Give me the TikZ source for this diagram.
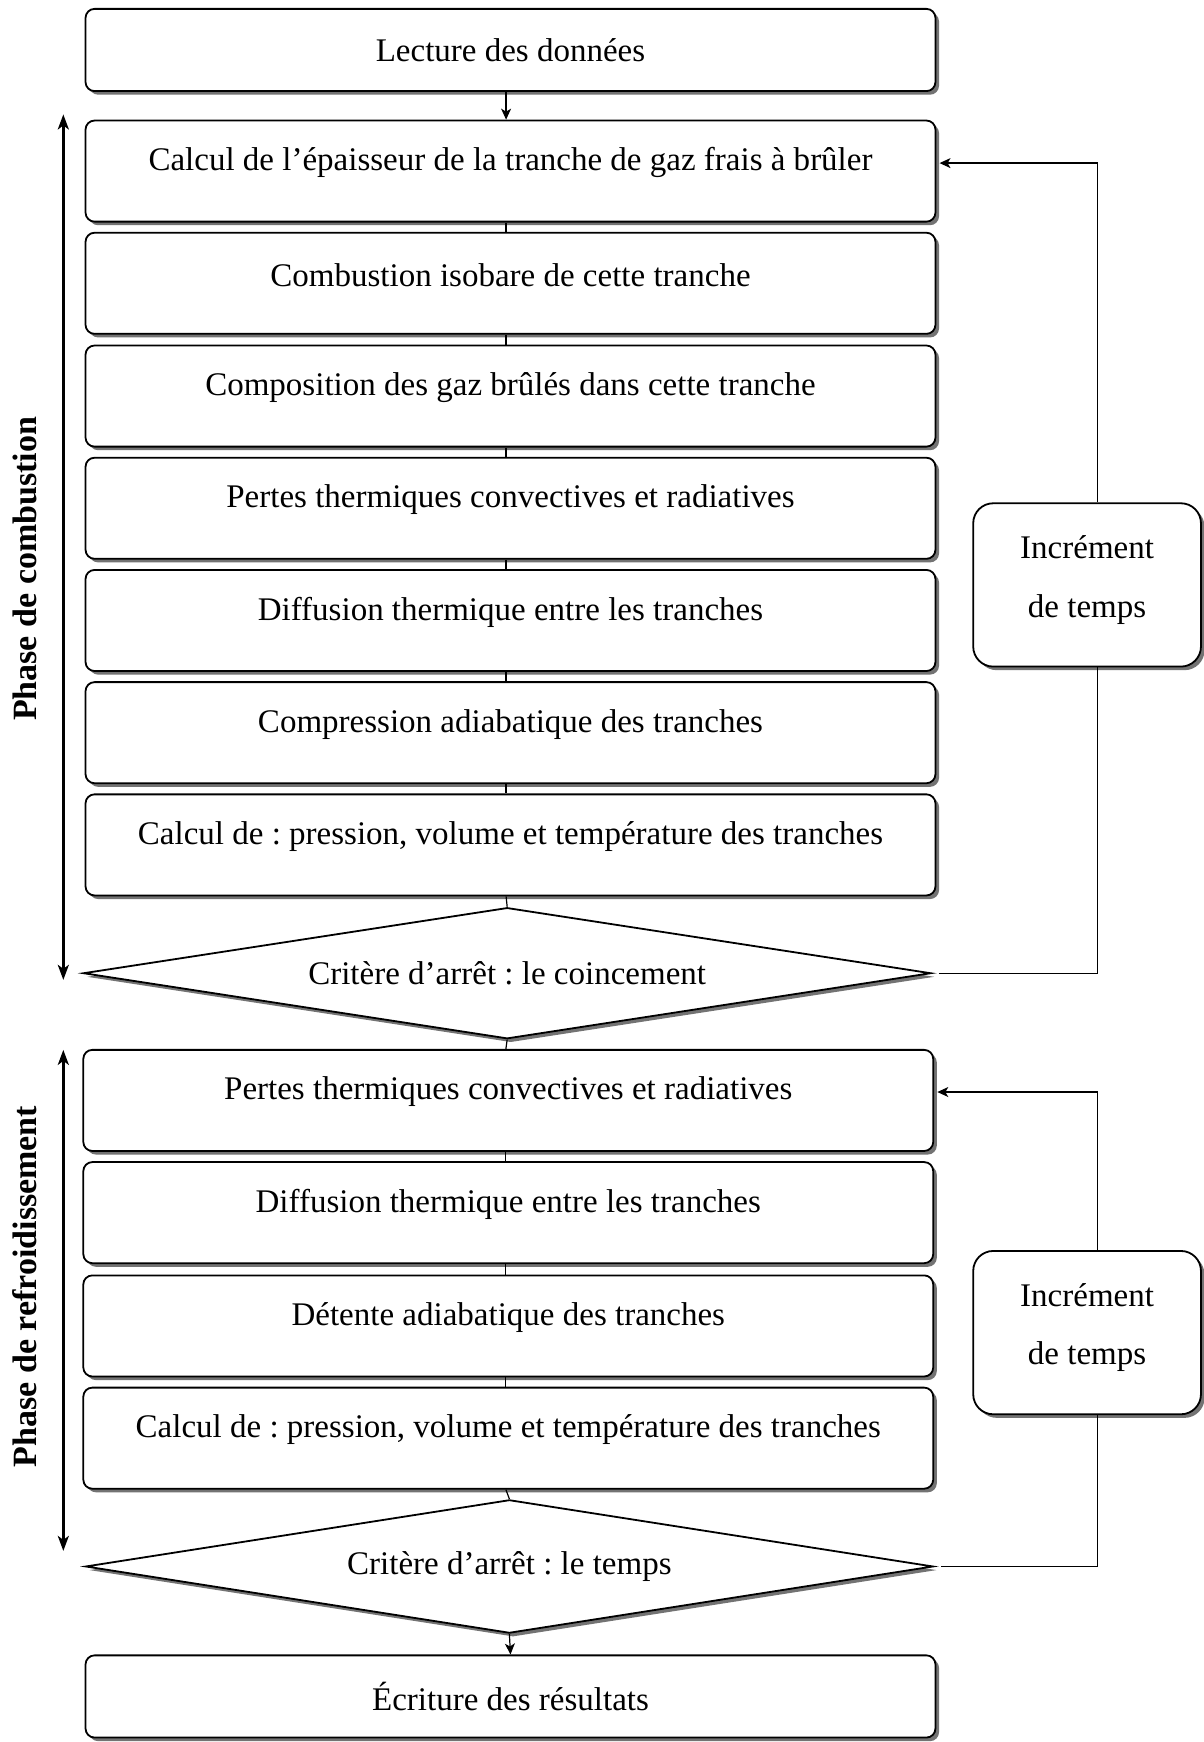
\documentclass[tikz,border=0pt]{standalone}
\usepackage{fontspec}
\setmainfont{Liberation Serif}
\usetikzlibrary{shapes.geometric,shadows,arrows.meta}
\frenchspacing
\def\u{0.5554pt}
\newcommand{\fs}{\fontsize{16.5}{20}\selectfont}
\newcommand{\upt}[1]{\raisebox{4.2pt}[\height][\depth]{#1}}
\tikzset{
  shad/.style={drop shadow={shadow xshift=1.8pt,shadow yshift=-1.8pt,fill=black!55,opacity=1}},
  stepbox/.style={draw,line width=0.9pt,rounded corners=4.5pt,fill=white,shad,
    minimum width=765*\u,minimum height=91*\u,inner sep=0pt,font=\fs},
  endbox/.style={stepbox,minimum height=74*\u},
  testbox/.style={draw,line width=0.9pt,fill=white,shad,shape=diamond,aspect=6.4,
    minimum width=763*\u,minimum height=118*\u,inner sep=0pt,font=\fs},
  incbox/.style={draw,line width=0.9pt,rounded corners=10pt,fill=white,shad,
    minimum width=205*\u,minimum height=147*\u,inner sep=0pt,align=center,
    font=\fontsize{16.5}{29.4}\selectfont},
  conn/.style={line width=0.6pt},
  arr/.style={conn,-{Stealth[length=5.5pt,width=5pt,inset=1.5pt]}},
  phase/.style={line width=1.3pt,{Stealth[length=7.5pt,width=5.5pt,inset=2pt]}-{Stealth[length=7.5pt,width=5.5pt,inset=2pt]}},
  phaselab/.style={rotate=90,font=\fontsize{17}{20}\selectfont\bfseries}
}
\begin{document}
\begin{tikzpicture}[x=0.5554pt,y=-0.5554pt]
\path[use as bounding box,fill=white] (0,0) rectangle (1083,1568);
% upper part
\node[endbox] (b1) at (459.5,45) {Lecture des données};
\node[stepbox] (b2) at (459.5,154) {\upt{Calcul de l’épaisseur de la tranche de gaz frais à brûler}};
\node[stepbox] (b3) at (459.5,255) {\upt{Combustion isobare de cette tranche}};
\node[stepbox] (b4) at (459.5,356.5) {\upt{Composition des gaz brûlés dans cette tranche}};
\node[stepbox] (b5) at (459.5,457.5) {\upt{Pertes thermiques convectives et radiatives}};
\node[stepbox] (b6) at (459.5,558.5) {\upt{Diffusion thermique entre les tranches}};
\node[stepbox] (b7) at (459.5,659.5) {\upt{Compression adiabatique des tranches}};
\node[stepbox] (b8) at (459.5,760.5) {\upt{Calcul de : pression, volume et température des tranches}};
\node[testbox] (d1) at (456.5,876) {Critère d’arrêt : le coincement};
% lower part
\node[stepbox] (c1) at (457.5,990.5) {\upt{Pertes thermiques convectives et radiatives}};
\node[stepbox] (c2) at (457.5,1091.5) {\upt{Diffusion thermique entre les tranches}};
\node[stepbox] (c3) at (457.5,1193.5) {\upt{Détente adiabatique des tranches}};
\node[stepbox] (c4) at (457.5,1294.5) {\upt{Calcul de : pression, volume et température des tranches}};
\node[testbox,minimum height=120*\u] (d2) at (458.5,1410) {Critère d’arrêt : le temps};
\node[endbox] (e1) at (459.5,1527) {Écriture des résultats};
% increment boxes
\node[incbox] (i1) at (978.5,526.5) {\raisebox{4.4pt}[\height][\depth]{\begin{tabular}{@{}c@{}}Incrément\\de temps\end{tabular}}};
\node[incbox] (i2) at (978.5,1199.5) {\raisebox{4.4pt}[\height][\depth]{\begin{tabular}{@{}c@{}}Incrément\\de temps\end{tabular}}};
% main flow
\draw[arr] ([xshift=-2.2pt]b1.south) -- ([xshift=-2.2pt]b2.north);
\foreach \a/\b in {b2/b3,b3/b4,b4/b5,b5/b6,b6/b7,b7/b8}
  \draw[conn] ([xshift=-2.2pt]\a.south) -- ([xshift=-2.2pt]\b.north);
\draw[conn] ([xshift=-2.2pt]b8.south) -- (d1.north);
\draw[conn] (d1.south) -- ([xshift=-1.2pt]c1.north);
\foreach \a/\b in {c1/c2,c2/c3,c3/c4}
  \draw[conn] ([xshift=-1.2pt]\a.south) -- ([xshift=-1.2pt]\b.north);
\draw[conn] ([xshift=-1.2pt]c4.south) -- (d2.north);
\draw[arr] (d2.south) -- (e1.north);
% loops
\draw[conn,shorten <=3.5pt] (d1.east) -| ([xshift=5.3pt]i1.south);
\draw[arr,shorten >=1.6pt] ([xshift=5.3pt]i1.north) |- ([yshift=4pt]b2.east);
\draw[conn,shorten <=3.5pt] (d2.east) -| ([xshift=5.3pt]i2.south);
\draw[arr,shorten >=1.6pt] ([xshift=5.3pt]i2.north) |- ([yshift=4.2pt]c1.east);
% phase arrows
\coordinate (p1t) at (57,103);
\coordinate (p1b) at (57,882);
\coordinate (p2t) at (57,945);
\coordinate (p2b) at (57,1396);
\draw[phase] (p1b) -- (p1t);
\draw[phase] (p2b) -- (p2t);
\node[phaselab] (l1) at (22,512) {Phase de combustion};
\node[phaselab] (l2) at (22,1158) {Phase de refroidissement};
\end{tikzpicture}
\end{document}
